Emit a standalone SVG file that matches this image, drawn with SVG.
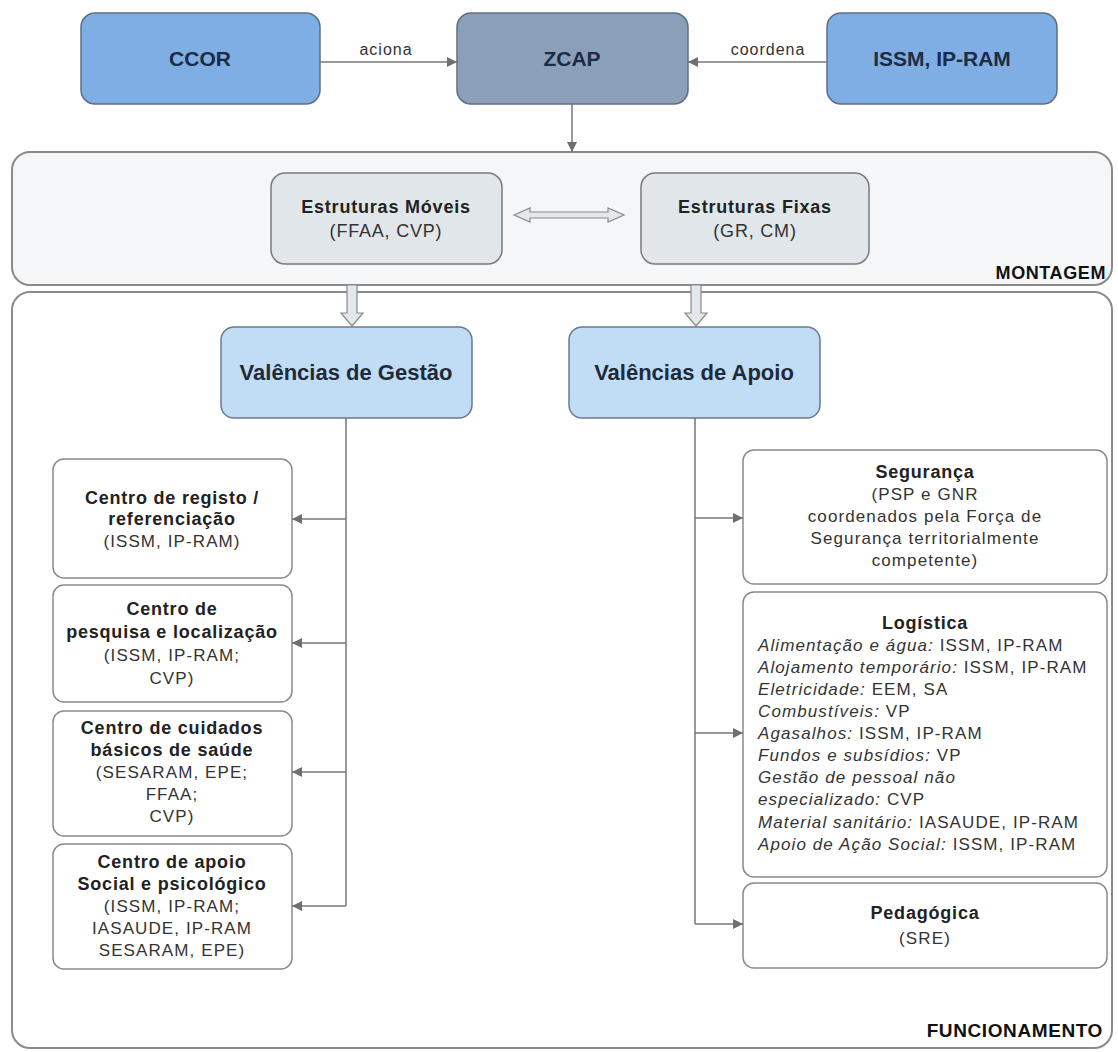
<svg xmlns="http://www.w3.org/2000/svg" width="1118" height="1052" viewBox="0 0 1118 1052">
<defs>
<marker id="ah" markerUnits="userSpaceOnUse" markerWidth="10" markerHeight="10" refX="10" refY="5" orient="auto">
<path d="M0,0 L10,5 L0,10 z" fill="#6f6f6f"/>
</marker>
<style>
text{font-family:"Liberation Sans",Arial,sans-serif;}
.top{font-size:21px;font-weight:bold;fill:#1d2b45;text-anchor:middle;}
.lbl{font-size:16px;letter-spacing:1px;fill:#333;text-anchor:middle;}
.bt{font-size:18px;font-weight:bold;letter-spacing:0.8px;fill:#222;text-anchor:middle;}
.nt{font-size:17px;letter-spacing:1.1px;fill:#333;text-anchor:middle;}
.lt{font-size:17px;letter-spacing:1.1px;fill:#333;}
.val{font-size:22px;font-weight:bold;fill:#1f2a38;text-anchor:middle;}
.sec{font-size:18px;font-weight:bold;letter-spacing:0.6px;fill:#111;text-anchor:end;}
.blue{fill:#7eaee3;stroke:#5f6f82;stroke-width:1.5;}
.gray{fill:#8c9fb8;stroke:#5f6f82;stroke-width:1.5;}
.panel{fill:#f4f6f8;stroke:#8a8a8a;stroke-width:2;}
.panel2{fill:#ffffff;stroke:#8a8a8a;stroke-width:2;}
.est{fill:#e1e6eb;stroke:#7a7a7a;stroke-width:1.5;}
.valbox{fill:#c1dcf5;stroke:#6b7a8c;stroke-width:1.5;}
.wbox{fill:#ffffff;stroke:#8a8a8a;stroke-width:1.5;}
.ln{fill:none;stroke:#777;stroke-width:1.5;}
.hollow{fill:#e4e8ec;stroke:#8a8a8a;stroke-width:1.2;}
i{font-style:italic;}
.it{font-style:italic;}
</style>
</defs>

<g id="panel-montagem">
<rect class="panel" x="12" y="152" width="1100" height="133" rx="18"/>
<text class="sec" x="1106" y="279">MONTAGEM</text>
</g>
<g id="panel-funcionamento">
<rect class="panel2" x="12" y="292" width="1100" height="756" rx="18"/>
<text class="sec" x="1103" y="1037" style="font-size:19px">FUNCIONAMENTO</text>
</g>

<g id="ccor">
<rect class="blue" x="81" y="13" width="239" height="91" rx="14"/>
<text class="top" x="200" y="66">CCOR</text>
</g>
<g id="zcap">
<rect class="gray" x="457" y="13" width="231" height="91" rx="14"/>
<text class="top" x="572" y="66">ZCAP</text>
</g>
<g id="issm">
<rect class="blue" x="827" y="13" width="230" height="91" rx="14"/>
<text class="top" x="942" y="66">ISSM, IP-RAM</text>
</g>

<g id="estruturas-moveis">
<rect class="est" x="271" y="173" width="231" height="91" rx="14"/>
<text class="bt" x="386" y="213">Estruturas Móveis</text>
<text class="nt" x="386" y="237" style="font-size:18px;letter-spacing:0.8px">(FFAA, CVP)</text>
</g>
<g id="estruturas-fixas">
<rect class="est" x="641" y="173" width="228" height="91" rx="14"/>
<text class="bt" x="755" y="213">Estruturas Fixas</text>
<text class="nt" x="755" y="237" style="font-size:18px;letter-spacing:0.8px">(GR, CM)</text>
</g>

<g id="valencias-gestao">
<rect class="valbox" x="221" y="327" width="251" height="91" rx="13"/>
<text class="val" x="346" y="380">Valências de Gestão</text>
</g>
<g id="valencias-apoio">
<rect class="valbox" x="569" y="327" width="251" height="91" rx="13"/>
<text class="val" x="694" y="380">Valências de Apoio</text>
</g>

<g id="centro-registo">
<rect class="wbox" x="53" y="459" width="239" height="119" rx="11"/>
<text class="bt" x="172" y="504">Centro de registo /</text>
<text class="bt" x="172" y="525">referenciação</text>
<text class="nt" x="172" y="547">(ISSM, IP-RAM)</text>
</g>
<g id="centro-pesquisa">
<rect class="wbox" x="53" y="585" width="239" height="117" rx="11"/>
<text class="bt" x="172" y="615">Centro de</text>
<text class="bt" x="172" y="638">pesquisa e localização</text>
<text class="nt" x="172" y="661">(ISSM, IP-RAM;</text>
<text class="nt" x="172" y="684">CVP)</text>
</g>
<g id="centro-cuidados">
<rect class="wbox" x="53" y="711" width="239" height="125" rx="11"/>
<text class="bt" x="172" y="734">Centro de cuidados</text>
<text class="bt" x="172" y="756">básicos de saúde</text>
<text class="nt" x="172" y="778">(SESARAM, EPE;</text>
<text class="nt" x="172" y="800">FFAA;</text>
<text class="nt" x="172" y="822">CVP)</text>
</g>
<g id="centro-apoio">
<rect class="wbox" x="53" y="844" width="239" height="125" rx="11"/>
<text class="bt" x="172" y="868">Centro de apoio</text>
<text class="bt" x="172" y="890">Social e psicológico</text>
<text class="nt" x="172" y="912">(ISSM, IP-RAM;</text>
<text class="nt" x="172" y="934">IASAUDE, IP-RAM</text>
<text class="nt" x="172" y="956">SESARAM, EPE)</text>
</g>

<g id="seguranca">
<rect class="wbox" x="743" y="450" width="364" height="134" rx="11"/>
<text class="bt" x="925" y="478">Segurança</text>
<text class="nt" x="925" y="500">(PSP e GNR</text>
<text class="nt" x="925" y="522">coordenados pela Força de</text>
<text class="nt" x="925" y="544">Segurança territorialmente</text>
<text class="nt" x="925" y="566">competente)</text>
</g>
<g id="logistica">
<rect class="wbox" x="743" y="592" width="364" height="285" rx="11"/>
<text class="bt" x="925" y="629">Logística</text>
<text class="lt" x="758" y="651"><tspan class="it">Alimentação e água:</tspan> ISSM, IP-RAM</text>
<text class="lt" x="758" y="673"><tspan class="it">Alojamento temporário:</tspan> ISSM, IP-RAM</text>
<text class="lt" x="758" y="695"><tspan class="it">Eletricidade:</tspan> EEM, SA</text>
<text class="lt" x="758" y="717"><tspan class="it">Combustíveis:</tspan> VP</text>
<text class="lt" x="758" y="739"><tspan class="it">Agasalhos:</tspan> ISSM, IP-RAM</text>
<text class="lt" x="758" y="761"><tspan class="it">Fundos e subsídios:</tspan> VP</text>
<text class="lt" x="758" y="783"><tspan class="it">Gestão de pessoal não</tspan></text>
<text class="lt" x="758" y="805"><tspan class="it">especializado:</tspan> CVP</text>
<text class="lt" x="758" y="828"><tspan class="it">Material sanitário:</tspan> IASAUDE, IP-RAM</text>
<text class="lt" x="758" y="850"><tspan class="it">Apoio de Ação Social:</tspan> ISSM, IP-RAM</text>
</g>
<g id="pedagogica">
<rect class="wbox" x="743" y="883" width="364" height="85" rx="11"/>
<text class="bt" x="925" y="919">Pedagógica</text>
<text class="nt" x="925" y="944">(SRE)</text>
</g>

<g id="connectors">
<line class="ln" x1="320" y1="62" x2="457" y2="62" marker-end="url(#ah)"/>
<text class="lbl" x="386" y="55">aciona</text>
<line class="ln" x1="827" y1="62" x2="688" y2="62" marker-end="url(#ah)"/>
<text class="lbl" x="768" y="55">coordena</text>
<line class="ln" x1="572" y1="104" x2="572" y2="152" marker-end="url(#ah)"/>
<polygon class="hollow" points="514,215 530,208 530,212 608,212 608,208 624,215 608,222 608,218 530,218 530,222"/>
<polygon class="hollow" points="347,285 357,285 357,313 363,313 352,326 341,313 347,313"/>
<polygon class="hollow" points="691,285 701,285 701,313 707,313 696,326 685,313 691,313"/>
<polyline class="ln" points="346,418 346,906"/>
<line class="ln" x1="346" y1="519" x2="292" y2="519" marker-end="url(#ah)"/>
<line class="ln" x1="346" y1="643" x2="292" y2="643" marker-end="url(#ah)"/>
<line class="ln" x1="346" y1="772" x2="292" y2="772" marker-end="url(#ah)"/>
<line class="ln" x1="346" y1="906" x2="292" y2="906" marker-end="url(#ah)"/>
<polyline class="ln" points="695,418 695,924"/>
<line class="ln" x1="695" y1="518" x2="743" y2="518" marker-end="url(#ah)"/>
<line class="ln" x1="695" y1="733" x2="743" y2="733" marker-end="url(#ah)"/>
<line class="ln" x1="695" y1="924" x2="743" y2="924" marker-end="url(#ah)"/>
</g>
</svg>
